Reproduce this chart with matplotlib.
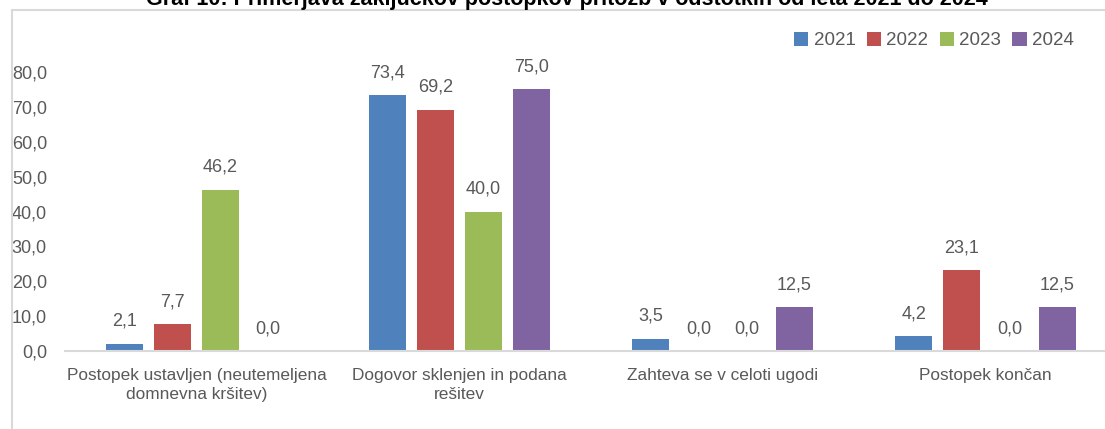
import numpy as np
import matplotlib.pyplot as plt
from matplotlib.patches import Rectangle

plt.rcParams['font.family'] = ['Liberation Sans', 'DejaVu Sans']

categories = ["Postopek ustavljen (neutemeljena\ndomnevna kršitev)",
              "Dogovor sklenjen in podana\nrešitev",
              "Zahteva se v celoti ugodi",
              "Postopek končan"]
years = ["2021", "2022", "2023", "2024"]
v2021 = [2.1, 73.4, 3.5, 4.2]
v2022 = [7.7, 69.2, 0.0, 23.1]
v2023 = [46.2, 40.0, 0.0, 0.0]
v2024 = [0.0, 75.0, 12.5, 12.5]
yticks = [0, 10, 20, 30, 40, 50, 60, 70, 80]
title = "Graf 10: Primerjava zaključkov postopkov pritožb v odstotkih od leta 2021 do 2024"

colors = ["#4F81BD", "#C0504D", "#9BBB59", "#8064A2"]
text_col = "#595959"

W, H = 1105, 429
fig = plt.figure(figsize=(W / 100, H / 100), dpi=100)

# outer chart frame (partly clipped on the right/bottom like the original)
fig.patches.append(Rectangle((12 / W, -0.1), 1.2, 1 - 10 / H + 0.1,
                             transform=fig.transFigure, fill=False,
                             edgecolor="#D9D9D9", linewidth=1.5))

fig.text(567 / W, 1 - 5 / H, title, ha="center", va="baseline",
         fontsize=15.5, fontweight="bold", color="black")

ax = fig.add_axes([65 / W, (H - 351) / H, 1052 / W, 279 / H])

x = np.arange(len(categories))
width = 0.14
step = 0.1815
series = [v2021, v2022, v2023, v2024]
for i, (vals, yr) in enumerate(zip(series, years)):
    pos = x + (i - 1.5) * step
    ax.bar(pos, vals, width, color=colors[i], label=yr, zorder=2)
    for px, v in zip(pos, vals):
        ax.annotate(f"{v:.1f}".replace(".", ","), (px, v), xytext=(0, 10),
                    textcoords="offset points", ha="center", va="bottom",
                    fontsize=13, color=text_col)

ax.set_xlim(-0.5, len(categories) - 0.5)
ax.set_ylim(0, 80)
ax.set_yticks(yticks)
ax.set_yticklabels([f"{t:.1f}".replace(".", ",") for t in yticks])
ax.set_xticks(x)
ax.set_xticklabels(categories, linespacing=1.4)
ax.tick_params(axis="y", length=0, pad=13, labelsize=13, labelcolor=text_col)
ax.tick_params(axis="x", length=0, pad=12, labelsize=12.4, labelcolor=text_col)
for s in ["top", "right", "left"]:
    ax.spines[s].set_visible(False)
ax.spines["bottom"].set_color("#D9D9D9")
ax.spines["bottom"].set_linewidth(1.5)
ax.patch.set_alpha(0)

ax.legend(loc="upper right", bbox_to_anchor=(1074 / W, 1 - 32 / H),
          bbox_transform=fig.transFigure, ncol=4, frameon=False,
          fontsize=13.5, handlelength=0.75, handleheight=0.75,
          handletextpad=0.3, columnspacing=0.6, labelcolor=text_col,
          borderaxespad=0, borderpad=0)

fig.savefig("out.png", dpi=100)
